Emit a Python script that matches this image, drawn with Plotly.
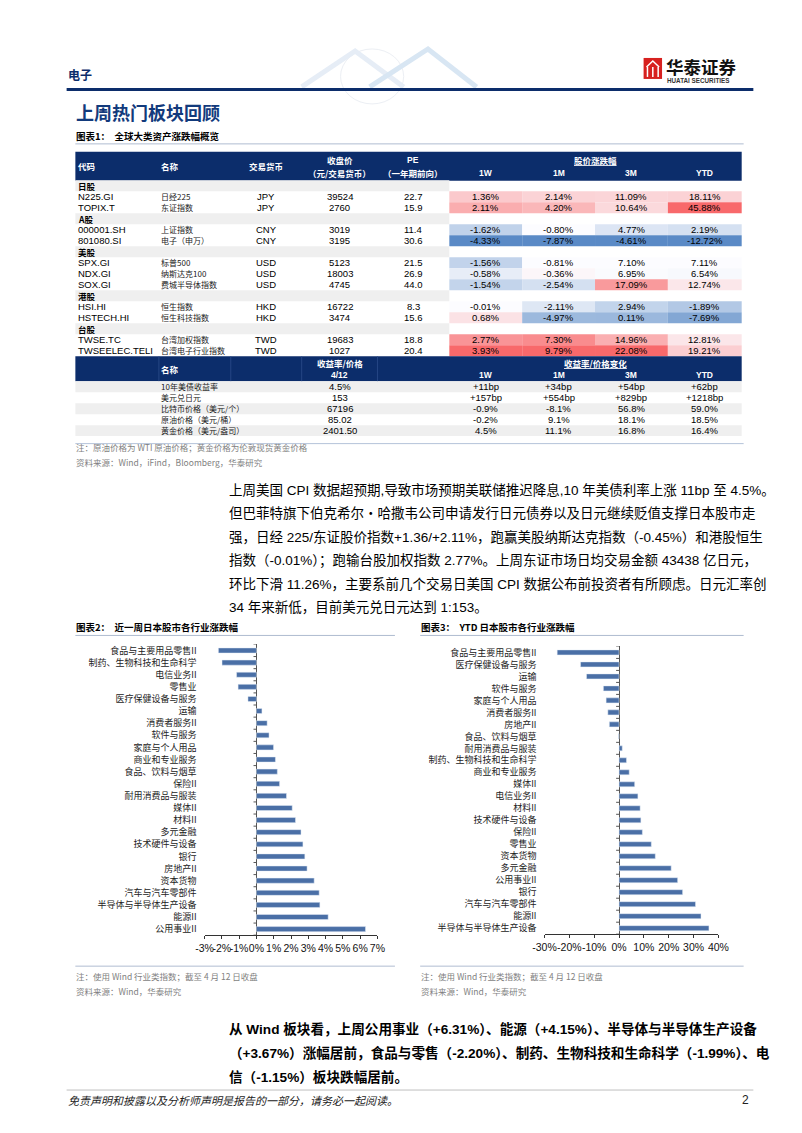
import plotly.graph_objects as go
from statistics import median

# ---------------- data: table 1 ----------------
section_names = ["日股", "A股", "美股", "港股", "台股"]
section_sizes = [2, 2, 3, 2, 2]
codes = ["N225.GI", "TOPIX.T", "000001.SH", "801080.SI", "SPX.GI", "NDX.GI", "SOX.GI",
         "HSI.HI", "HSTECH.HI", "TWSE.TC", "TWSEELEC.TELI"]
names = ["日经225", "东证指数", "上证指数", "电子（申万）", "标普500", "纳斯达克100", "费城半导体指数",
         "恒生指数", "恒生科技指数", "台湾加权指数", "台湾电子行业指数"]
currencies = ["JPY", "JPY", "CNY", "CNY", "USD", "USD", "USD", "HKD", "HKD", "TWD", "TWD"]
close_px = [39524, 2760, 3019, 3195, 5123, 18003, 4745, 16722, 3474, 19683, 1027]
pe_fwd = [22.7, 15.9, 11.4, 30.6, 21.5, 26.9, 44.0, 8.3, 15.6, 18.8, 20.4]
chg_1w = [1.36, 2.11, -1.62, -4.33, -1.56, -0.58, -1.54, -0.01, 0.68, 2.77, 3.93]
chg_1m = [2.14, 4.20, -0.80, -7.87, -0.81, -0.36, -2.54, -2.11, -4.97, 7.30, 9.79]
chg_3m = [11.09, 10.64, 4.77, -4.61, 7.10, 6.95, 17.09, 2.94, 0.11, 14.96, 22.08]
chg_ytd = [18.11, 45.88, 2.19, -12.72, 7.11, 6.54, 12.74, -1.89, -7.69, 12.81, 19.21]
period_labels = ["1W", "1M", "3M", "YTD"]

macro_names = ["10年美债收益率", "美元兑日元", "比特币价格（美元/个）", "原油价格（美元/桶）", "黄金价格（美元/盎司）"]
macro_level = ["4.5%", "153", "67196", "85.02", "2401.50"]
macro_1w = ["+11bp", "+157bp", "-0.9%", "-0.2%", "4.5%"]
macro_1m = ["+34bp", "+554bp", "-8.1%", "9.1%", "11.1%"]
macro_3m = ["+54bp", "+829bp", "56.8%", "18.1%", "16.8%"]
macro_ytd = ["+62bp", "+1218bp", "59.0%", "18.5%", "16.4%"]

# ---------------- data: charts ----------------
week_sectors = ["食品与主要用品零售II", "制药、生物科技和生命科学", "电信业务II", "零售业", "医疗保健设备与服务",
                "运输", "消费者服务II", "软件与服务", "家庭与个人用品", "商业和专业服务", "食品、饮料与烟草",
                "保险II", "耐用消费品与服装", "媒体II", "材料II", "多元金融", "技术硬件与设备", "银行",
                "房地产II", "资本货物", "汽车与汽车零部件", "半导体与半导体生产设备", "能源II", "公用事业II"]
week_values = [-2.20, -1.99, -1.15, -1.06, -0.49, 0.32, 0.62, 0.73, 0.99, 1.10, 1.21, 1.34, 1.74, 2.07,
               2.26, 2.58, 2.69, 2.80, 2.93, 3.34, 3.63, 3.67, 4.15, 6.31]
week_ticks = [-3, -2, -1, 0, 1, 2, 3, 4, 5, 6, 7]
week_ticktext = ["-3%", "-2%", "-1%", "0%", "1%", "2%", "3%", "4%", "5%", "6%", "7%"]

ytd_sectors = ["食品与主要用品零售II", "医疗保健设备与服务", "运输", "软件与服务", "家庭与个人用品", "消费者服务II",
               "房地产II", "食品、饮料与烟草", "耐用消费品与服装", "制药、生物科技和生命科学", "商业和专业服务",
               "媒体II", "电信业务II", "材料II", "技术硬件与设备", "保险II", "零售业", "资本货物", "多元金融",
               "公用事业II", "银行", "汽车与汽车零部件", "能源II", "半导体与半导体生产设备"]
ytd_values = [-24.9, -15.5, -13.1, -6.3, -5.2, -4.5, -3.9, -0.2, 1.3, 3.0, 4.1, 6.3, 7.6, 8.5, 8.8, 9.4,
              13.0, 14.6, 21.0, 23.6, 25.6, 30.8, 33.0, 36.2]
ytd_ticks = [-30, -20, -10, 0, 10, 20, 30, 40]
ytd_ticktext = ["-30%", "-20%", "-10%", "0%", "10%", "20%", "30%", "40%"]

para1 = ["上周美国 CPI 数据超预期,导致市场预期美联储推迟降息,10 年美债利率上涨 11bp 至 4.5%。",
         "但巴菲特旗下伯克希尔・哈撒韦公司申请发行日元债券以及日元继续贬值支撑日本股市走",
         "强，日经 225/东证股价指数+1.36/+2.11%，跑赢美股纳斯达克指数（-0.45%）和港股恒生",
         "指数（-0.01%）；跑输台股加权指数 2.77%。上周东证市场日均交易金额 43438 亿日元，",
         "环比下滑 11.26%，主要系前几个交易日美国 CPI 数据公布前投资者有所顾虑。日元汇率创",
         "34 年来新低，目前美元兑日元达到 1:153。"]
para2 = ["从 Wind 板块看，上周公用事业（+6.31%）、能源（+4.15%）、半导体与半导体生产设备",
         "（+3.67%）涨幅居前，食品与零售（-2.20%）、制药、生物科技和生命科学（-1.99%）、电",
         "信（-1.15%）板块跌幅居前。"]

# ---------------- styling ----------------
W, H = 802, 1133
NAVY = "#0c2d6b"
BAR = "#4a6fa6"
CJK = "Noto Sans CJK SC"
LAT = "Liberation Sans, Noto Sans CJK SC"
NARROW = "Liberation Sans Narrow, Liberation Sans, Noto Sans CJK SC"
GRAY_TXT = "#7f7f7f"
LOW, MID, HIGH = (90, 138, 198), (252, 252, 255), (248, 105, 107)


def px(x):
    return x / W


def py(y):
    return 1 - y / H


shapes, annos = [], []


def txt(x, y, s, size=9, color="black", anchor="left", family=CJK):
    annos.append(dict(x=px(x), y=py(y), xref="paper", yref="paper", text=s, showarrow=False,
                      xanchor=anchor, yanchor="middle", borderpad=0,
                      font=dict(size=size, color=color, family=family)))


def rect(x0, y0, x1, y1, fill, line=None):
    shapes.append(dict(type="rect", xref="paper", yref="paper", x0=px(x0), x1=px(x1), y0=py(y1), y1=py(y0),
                       fillcolor=fill, line=dict(width=0) if line is None else line, layer="below"))


def hline(x0, x1, y, color, width=1):
    shapes.append(dict(type="line", xref="paper", yref="paper", x0=px(x0), x1=px(x1), y0=py(y), y1=py(y),
                       line=dict(color=color, width=width)))


def scale_color(v, vals):
    lo, mid, hi = min(vals), median(vals), max(vals)
    if v >= mid:
        t, end = ((v - mid) / (hi - mid) if hi > mid else 0), HIGH
    else:
        t, end = ((mid - v) / (mid - lo) if mid > lo else 0), LOW
    c = [round(MID[i] + (end[i] - MID[i]) * t) for i in range(3)]
    return "rgb(%d,%d,%d)" % tuple(c)


# ---------------- page header ----------------
txt(48, 66, "<b>电子</b>", 12, NAVY)
hline(48, 755, 80.5, NAVY, 3)
# light watermark motif
shapes.append(dict(type="circle", xref="paper", yref="paper", x0=px(330), x1=px(395), y0=py(95), y1=py(40),
                   line=dict(color="#eceff4", width=1), layer="below"))
shapes.append(dict(type="path", xref="paper", yref="paper",
                   path="M %f,%f L %f,%f L %f,%f" % (px(290), py(78), px(345), py(42), px(395), py(78)),
                   line=dict(color="#e6edf6", width=5), layer="below"))
shapes.append(dict(type="path", xref="paper", yref="paper",
                   path="M %f,%f L %f,%f L %f,%f" % (px(360), py(78), px(420), py(40), px(470), py(78)),
                   line=dict(color="#d8e6f3", width=5), layer="below"))
# logo
rect(642, 49, 661, 70, "#d7211f")
for k in range(3):
    shapes.append(dict(type="line", xref="paper", yref="paper", x0=px(646 + k * 5.5), x1=px(646 + k * 5.5),
                       y0=py(68), y1=py(58), line=dict(color="white", width=1.5)))
shapes.append(dict(type="path", xref="paper", yref="paper",
                   path="M %f,%f L %f,%f L %f,%f" % (px(645), py(58), px(651.5), py(52), px(658), py(58)),
                   line=dict(color="white", width=1.5)))
txt(664, 58, "<b>华泰证券</b>", 17.5, "#111111")
txt(665, 72, "<b>HUATAI SECURITIES</b>", 6.3, "#333333", family=LAT)

txt(57, 103, "<b>上周热门板块回顾</b>", 18, "#123a7c")

# ---------------- table 1 ----------------
txt(57, 127, "<b>图表1：  全球大类资产涨跌幅概览</b>", 9.5)
hline(57, 745, 135, "#9aa9c4", 0.8)

col_x = [57, 143, 217, 290, 368, 442, 517, 592, 667, 743]
per_cx = [(col_x[5 + i] + col_x[6 + i]) / 2 for i in range(4)]
rect(57, 143, 743, 172, NAVY)
txt(59, 157.5, "<b>代码</b>", 8.5, "white")
txt(144, 157.5, "<b>名称</b>", 8.5, "white")
txt((col_x[2] + col_x[3]) / 2, 157.5, "<b>交易货币</b>", 8.5, "white", "center")
txt((col_x[3] + col_x[4]) / 2, 151, "<b>收盘价</b>", 8.5, "white", "center")
txt((col_x[3] + col_x[4]) / 2, 164, "<b>（元/交易货币）</b>", 8.5, "white", "center")
txt((col_x[4] + col_x[5]) / 2, 151, "<b>PE</b>", 8.5, "white", "center", LAT)
txt((col_x[4] + col_x[5]) / 2, 164, "<b>（一年期前向）</b>", 8.5, "white", "center")
txt((col_x[5] + col_x[9]) / 2, 151, "<b><u>股价涨跌幅</u></b>", 8.5, "white", "center")
for i, lab in enumerate(period_labels):
    txt(per_cx[i], 164, "<b>%s</b>" % lab, 8.5, "white", "center", LAT)

RH = 11.0
yc = 177.0
cols = [chg_1w, chg_1m, chg_3m, chg_ytd]
idx = 0
for s, sname in enumerate(section_names):
    rect(57, yc - RH / 2, col_x[5], yc + RH / 2, "#efefef")
    txt(59, yc, "<b>%s</b>" % sname, 8.5)
    yc += RH
    for _ in range(section_sizes[s]):
        txt(59, yc, codes[idx], 9.5, "black", family=NARROW)
        txt(144, yc, names[idx], 8, "#222222")
        txt((col_x[2] + col_x[3]) / 2, yc, currencies[idx], 9.5, "black", "center", NARROW)
        txt((col_x[3] + col_x[4]) / 2, yc, str(close_px[idx]), 9.5, "black", "center", NARROW)
        txt((col_x[4] + col_x[5]) / 2, yc, "%.1f" % pe_fwd[idx], 9.5, "black", "center", NARROW)
        for c in range(4):
            v = cols[c][idx]
            rect(col_x[5 + c], yc - RH / 2, col_x[6 + c], yc + RH / 2, scale_color(v, cols[c]))
            txt(per_cx[c], yc, "%.2f%%" % v, 9.5, "black", "center", NARROW)
        idx += 1
        yc += RH

# second header
h2_top = yc - RH / 2
rect(57, h2_top, 743, h2_top + 25, NAVY)
for xv in col_x[1:5]:
    shapes.append(dict(type="line", xref="paper", yref="paper", x0=px(xv), x1=px(xv), y0=py(h2_top + 25),
                       y1=py(h2_top), line=dict(color="#2c4c8c", width=0.8)))
txt(144, h2_top + 12.5, "<b>名称</b>", 8.5, "white")
txt((col_x[3] + col_x[4]) / 2, h2_top + 6.5, "<b>收益率/价格</b>", 8.5, "white", "center")
txt((col_x[3] + col_x[4]) / 2, h2_top + 18.5, "<b>4/12</b>", 8.5, "white", "center", LAT)
txt((col_x[5] + col_x[9]) / 2, h2_top + 6.5, "<b><u>收益率/价格变化</u></b>", 8.5, "white", "center")
for i, lab in enumerate(period_labels):
    txt(per_cx[i], h2_top + 18.5, "<b>%s</b>" % lab, 8.5, "white", "center", LAT)

yc = h2_top + 25 + RH / 2
mcols = [macro_1w, macro_1m, macro_3m, macro_ytd]
for i, nm in enumerate(macro_names):
    if i % 2 == 0:
        rect(57, yc - RH / 2, 743, yc + RH / 2, "#efefef")
    txt(144, yc, nm, 8, "#222222")
    txt((col_x[3] + col_x[4]) / 2, yc, macro_level[i], 9.5, "black", "center", NARROW)
    for c in range(4):
        txt(per_cx[c], yc, mcols[c][i], 9.5, "black", "center", NARROW)
    yc += RH
hline(57, 745, yc + 2, "#9fb3cf", 0.8)
txt(57, 438, "注：原油价格为 WTI 原油价格；黄金价格为伦敦现货黄金价格", 8.5, GRAY_TXT)
txt(57, 453, "资料来源：Wind，iFind，Bloomberg，华泰研究", 8.5, GRAY_TXT)

# ---------------- paragraph 1 ----------------
for i, line in enumerate(para1):
    txt(214, 481 + i * 23.6, line, 13.5, "black", family=LAT)

# ---------------- chart titles & notes ----------------
txt(57, 619, "<b>图表2：  近一周日本股市各行业涨跌幅</b>", 9.5)
txt(412, 619, "<b>图表3：  YTD 日本股市各行业涨跌幅</b>", 9.5)
hline(57, 386, 627, "#9aa9c4", 0.8)
hline(412, 745, 627, "#9aa9c4", 0.8)
hline(57, 386, 958, "#9aa9c4", 0.8)
hline(412, 745, 958, "#9aa9c4", 0.8)
for xs in (57, 412):
    txt(xs, 968, "注：使用 Wind 行业类指数；截至 4 月 12 日收盘", 8.5, GRAY_TXT)
    txt(xs, 983, "资料来源：Wind，华泰研究", 8.5, GRAY_TXT)

# ---------------- paragraph 2 ----------------
for i, line in enumerate(para2):
    txt(214, 1021 + i * 24, "<b>%s</b>" % line, 13.6, "black", family=LAT)

# ---------------- footer ----------------
hline(48, 755, 1082, "#b0b0b0", 0.8)
txt(48, 1092, "<i>免责声明和披露以及分析师声明是报告的一部分，请务必一起阅读。</i>", 11, "#222222")
txt(752, 1092, "2", 12, "#222222", "right", LAT)

# ---------------- bar charts ----------------
fig = go.Figure()
fig.add_trace(go.Bar(x=week_values, y=week_sectors, orientation="h", marker_color=BAR, width=0.42,
                     xaxis="x", yaxis="y", showlegend=False))
fig.add_trace(go.Bar(x=ytd_values, y=ytd_sectors, orientation="h", marker_color=BAR, width=0.42,
                     xaxis="x2", yaxis="y2", showlegend=False))

charts = [("x", "y", week_ticks, week_ticktext, week_sectors, (190, 368), (636, 927)),
          ("x2", "y2", ytd_ticks, ytd_ticktext, ytd_sectors, (540, 719), (638, 926))]
axes = {}
for xa, ya, tv, tt, cats, (xl, xr), (yt, yb) in charts:
    rng = [tv[0], tv[-1]]
    axes["xaxis" if xa == "x" else "xaxis2"] = dict(
        domain=[px(xl), px(xr)], range=rng, tickvals=tv, ticktext=tt, anchor=ya, tickangle=0,
        showline=True, linecolor="#333333", linewidth=1, ticks="outside", ticklen=3, tickcolor="#333333",
        zeroline=True, zerolinecolor="#555555", zerolinewidth=1, showgrid=False, fixedrange=True,
        tickfont=dict(family=LAT, size=10.5, color="#111111"))
    axes["yaxis" if ya == "y" else "yaxis2"] = dict(
        domain=[py(yb), py(yt)], range=[len(cats) - 0.5, -0.5], anchor=xa, showline=False, ticks="",
        showgrid=False, zeroline=False, fixedrange=True, ticklabelstandoff=7,
        tickfont=dict(family=CJK, size=9, color="#222222"))
    # small ticks on the zero line between categories
    unit = (rng[1] - rng[0]) / (xr - xl)
    for k in range(len(cats) + 1):
        shapes.append(dict(type="line", xref=xa, yref=ya, x0=-3 * unit, x1=0, y0=k - 0.5, y1=k - 0.5,
                           line=dict(color="#555555", width=1)))

fig.update_layout(width=W, height=H, margin=dict(l=0, r=0, t=0, b=0), paper_bgcolor="white",
                  plot_bgcolor="white", bargap=0.55, shapes=shapes, annotations=annos, **axes)
fig.write_html("out.html")
